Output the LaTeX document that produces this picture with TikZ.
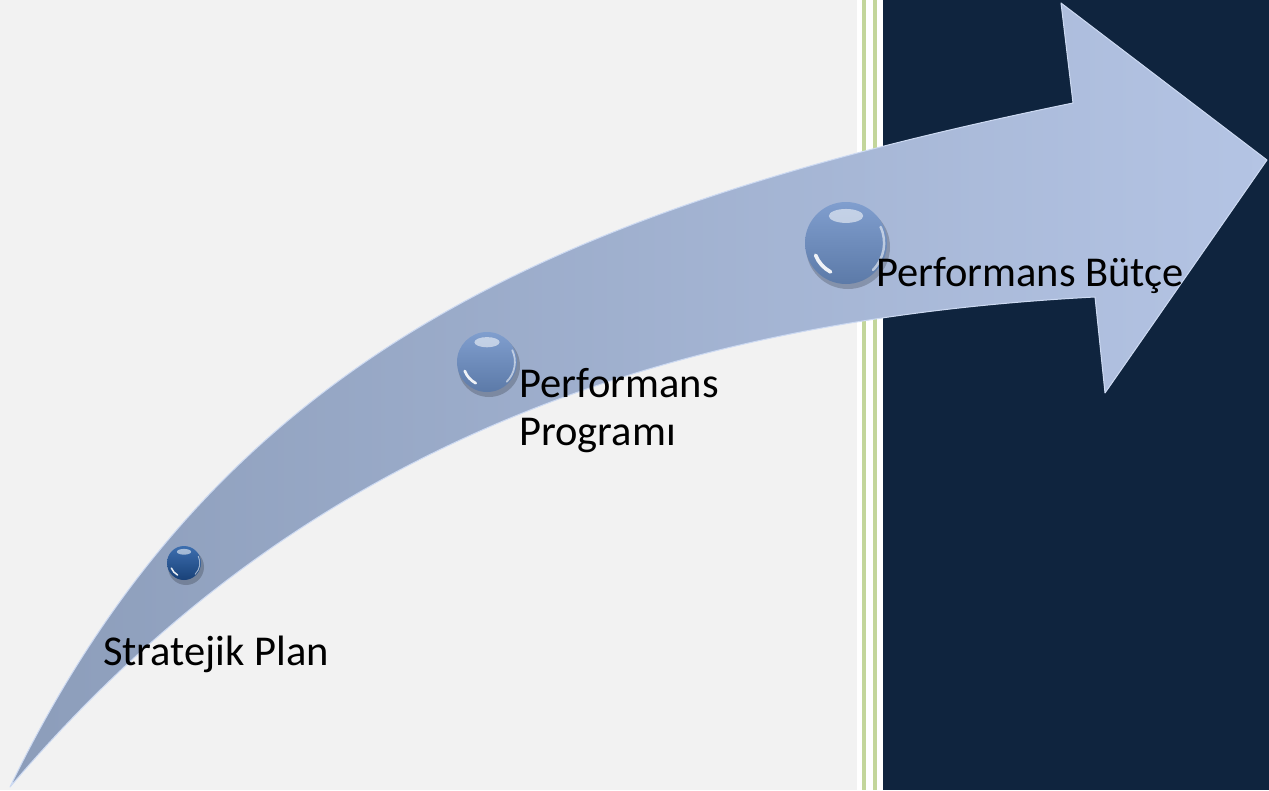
\documentclass[tikz,border=0pt]{standalone}
\usepackage{fontspec}
\setmainfont{Carlito}
\definecolor{bggray}{HTML}{F2F2F2}
\definecolor{greenline}{HTML}{C3D69B}
\definecolor{navy}{HTML}{0F243E}
\definecolor{arrowdark}{RGB}{140,157,186}
\definecolor{arrowlight}{RGB}{180,196,228}
\definecolor{arrowedge}{RGB}{205,218,242}
\definecolor{balltop}{RGB}{128,158,206}
\definecolor{ballbot}{RGB}{92,122,168}
\definecolor{smalltop}{RGB}{60,110,175}
\definecolor{smallbot}{RGB}{25,65,120}
\tikzset{
  labeltext/.style={anchor=base west, inner sep=0pt, text=black, font=\fontsize{42.5}{48}\selectfont, align=left},
  shine/.style={white, line cap=round},
}
\newcommand{\glassball}[5]{% x, y, r, top, bottom
  \fill[black, opacity=0.2] (#1+2,#2+4) circle[radius=#3+1];
  \shade[top color=#4, bottom color=#5] (#1,#2) circle[radius=#3];
  \fill[white, opacity=0.55] (#1,#2-0.66*#3) ellipse[x radius=0.42*#3, y radius=0.17*#3];
  \draw[shine, opacity=0.9, line width=0.09*#3] (#1,#2) ++(118:0.8*#3) arc[start angle=118, end angle=158, radius=0.8*#3];
  \draw[shine, opacity=0.55, line width=0.06*#3] (#1,#2) ++(-25:0.93*#3) arc[start angle=-25, end angle=45, radius=0.93*#3];
}
\begin{document}
\begin{tikzpicture}[x=1pt,y=-1pt]
\useasboundingbox (0,0) rectangle (1269,790);
% background
\fill[bggray] (0,0) rectangle (858,790);
\fill[white] (857,0) rectangle (884,790);
\fill[greenline] (862,0) rectangle (866,790);
\fill[greenline] (873,0) rectangle (877,790);
\fill[navy] (883,0) rectangle (1269,790);
% arrow
\shade[left color=arrowdark, right color=arrowlight, draw=arrowedge, line width=1pt, line join=round]
  (10,787) .. controls (220,353) and (562,208) .. (1073,103)
  -- (1061,3) -- (1267,160) -- (1105,393) -- (1095,297)
  .. controls (620,322) and (278,472) .. (10,787)
  -- cycle;
% balls
\glassball{184}{563}{17}{smalltop}{smallbot}
\glassball{487}{362}{30}{balltop}{ballbot}
\glassball{846}{243}{41}{balltop}{ballbot}
% labels
\node[labeltext] (sp) at (103,665) {Stratejik Plan};
\node[labeltext] (pp) at (519,445) {Performans\\Programı};
\node[labeltext] (pb) at (876,286) {Performans Bütçe};
\end{tikzpicture}
\end{document}
